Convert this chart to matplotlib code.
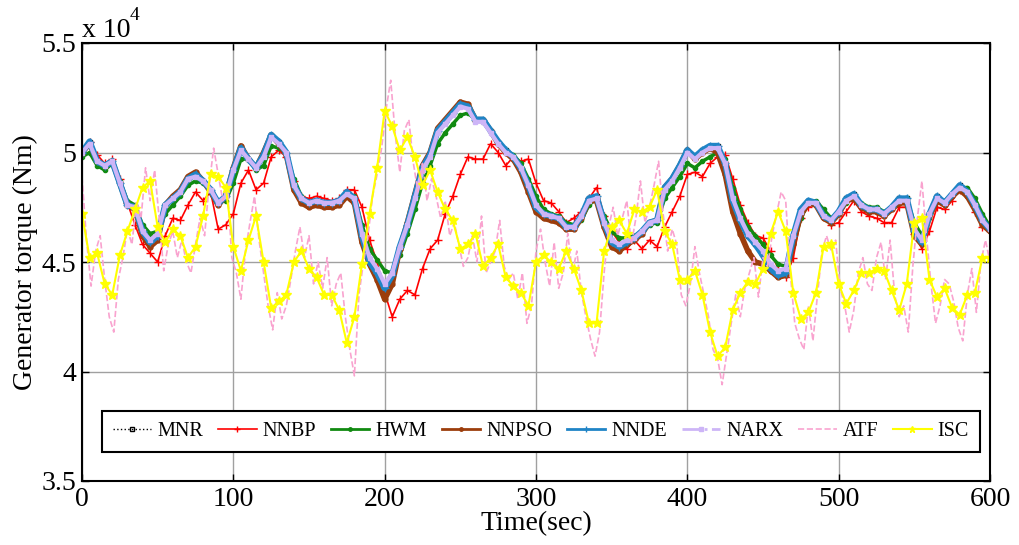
import numpy as np
import matplotlib
matplotlib.use("Agg")
import matplotlib.pyplot as plt
from matplotlib.lines import Line2D
from matplotlib.ticker import FuncFormatter

plt.rcParams["font.family"] = ["Liberation Serif", "DejaVu Serif"]

# Generator torque (x 10^4 Nm), sampled every 5 s
t = np.arange(0, 601, 5)

narx = [5.00, 5.04, 4.96, 4.94, 4.96, 4.86, 4.76, 4.75, 4.64, 4.60,
        4.63, 4.76, 4.79, 4.82, 4.88, 4.89, 4.87, 4.83, 4.77, 4.80,
        4.92, 5.01, 4.97, 4.93, 4.98, 5.07, 5.04, 5.00, 4.85, 4.79,
        4.77, 4.78, 4.77, 4.77, 4.78, 4.81, 4.79, 4.63, 4.52, 4.47,
        4.40, 4.45, 4.57, 4.67, 4.79, 4.92, 4.98, 5.09, 5.13, 5.17,
        5.21, 5.20, 5.14, 5.14, 5.09, 5.04, 5.00, 4.98, 4.93, 4.85,
        4.76, 4.72, 4.71, 4.70, 4.66, 4.66, 4.71, 4.78, 4.79, 4.68,
        4.60, 4.58, 4.60, 4.61, 4.64, 4.68, 4.69, 4.83, 4.87, 4.93,
        5.00, 4.97, 5.00, 5.02, 5.02, 4.95, 4.79, 4.70, 4.63, 4.59,
        4.55, 4.49, 4.46, 4.47, 4.62, 4.73, 4.77, 4.77, 4.71, 4.69,
        4.73, 4.78, 4.80, 4.76, 4.74, 4.74, 4.72, 4.75, 4.78, 4.78,
        4.65, 4.60, 4.72, 4.79, 4.77, 4.81, 4.84, 4.82, 4.76, 4.69,
        4.65]

nnde = [5.00, 5.05, 4.96, 4.94, 4.96, 4.86, 4.76, 4.75, 4.64, 4.59,
        4.62, 4.76, 4.79, 4.82, 4.88, 4.90, 4.87, 4.83, 4.77, 4.80,
        4.92, 5.02, 4.97, 4.93, 4.99, 5.08, 5.05, 5.00, 4.85, 4.79,
        4.77, 4.78, 4.77, 4.77, 4.78, 4.82, 4.79, 4.62, 4.50, 4.45,
        4.38, 4.44, 4.57, 4.67, 4.80, 4.93, 4.99, 5.10, 5.14, 5.18,
        5.22, 5.21, 5.15, 5.15, 5.10, 5.05, 5.01, 4.98, 4.93, 4.85,
        4.75, 4.72, 4.71, 4.70, 4.66, 4.66, 4.71, 4.79, 4.80, 4.68,
        4.59, 4.57, 4.59, 4.61, 4.64, 4.68, 4.69, 4.84, 4.88, 4.94,
        5.01, 4.98, 5.01, 5.03, 5.03, 4.95, 4.78, 4.69, 4.62, 4.58,
        4.53, 4.47, 4.44, 4.45, 4.62, 4.74, 4.78, 4.77, 4.71, 4.69,
        4.73, 4.79, 4.81, 4.76, 4.74, 4.74, 4.72, 4.75, 4.79, 4.79,
        4.64, 4.59, 4.72, 4.80, 4.77, 4.81, 4.85, 4.82, 4.76, 4.69,
        4.65]

mnr = [5.00, 5.05, 4.96, 4.94, 4.96, 4.86, 4.76, 4.75, 4.64, 4.59,
       4.62, 4.76, 4.79, 4.82, 4.88, 4.90, 4.87, 4.83, 4.77, 4.80,
       4.92, 5.02, 4.97, 4.93, 4.99, 5.08, 5.05, 5.00, 4.85, 4.79,
       4.77, 4.78, 4.77, 4.77, 4.78, 4.82, 4.79, 4.62, 4.50, 4.45,
       4.38, 4.44, 4.57, 4.67, 4.80, 4.93, 4.99, 5.10, 5.14, 5.18,
       5.22, 5.21, 5.15, 5.15, 5.10, 5.05, 5.01, 4.98, 4.93, 4.85,
       4.75, 4.72, 4.71, 4.70, 4.66, 4.66, 4.71, 4.79, 4.80, 4.68,
       4.59, 4.57, 4.59, 4.61, 4.64, 4.68, 4.69, 4.84, 4.88, 4.94,
       5.01, 4.98, 5.01, 5.03, 5.03, 4.95, 4.78, 4.69, 4.62, 4.58,
       4.53, 4.47, 4.44, 4.45, 4.62, 4.74, 4.78, 4.77, 4.71, 4.69,
       4.73, 4.79, 4.81, 4.76, 4.74, 4.74, 4.72, 4.75, 4.79, 4.79,
       4.64, 4.59, 4.72, 4.80, 4.77, 4.81, 4.85, 4.82, 4.76, 4.69,
       4.65]

nnpso = [5.00, 5.04, 4.96, 4.94, 4.96, 4.86, 4.76, 4.74, 4.62, 4.57,
         4.60, 4.76, 4.80, 4.83, 4.89, 4.91, 4.87, 4.82, 4.76, 4.80,
         4.93, 5.03, 4.97, 4.93, 5.00, 5.08, 5.04, 4.99, 4.83, 4.77,
         4.75, 4.76, 4.75, 4.75, 4.76, 4.80, 4.77, 4.59, 4.49, 4.42,
         4.33, 4.40, 4.56, 4.68, 4.81, 4.94, 5.00, 5.11, 5.15, 5.19,
         5.23, 5.22, 5.15, 5.15, 5.10, 5.04, 5.00, 4.97, 4.91, 4.82,
         4.73, 4.70, 4.69, 4.68, 4.65, 4.65, 4.70, 4.78, 4.78, 4.66,
         4.57, 4.55, 4.58, 4.60, 4.63, 4.68, 4.69, 4.84, 4.88, 4.94,
         5.01, 4.97, 5.00, 5.02, 5.00, 4.90, 4.73, 4.63, 4.55, 4.50,
         4.49, 4.46, 4.43, 4.44, 4.58, 4.72, 4.77, 4.76, 4.70, 4.68,
         4.72, 4.78, 4.79, 4.75, 4.73, 4.73, 4.71, 4.74, 4.77, 4.77,
         4.62, 4.58, 4.71, 4.78, 4.76, 4.80, 4.83, 4.80, 4.74, 4.67,
         4.64]

hwm = [4.98, 5.00, 4.94, 4.92, 4.95, 4.87, 4.78, 4.76, 4.67, 4.63,
       4.64, 4.72, 4.76, 4.80, 4.85, 4.87, 4.86, 4.83, 4.78, 4.78,
       4.86, 4.97, 4.97, 4.92, 4.94, 5.03, 5.02, 5.00, 4.88, 4.80,
       4.77, 4.78, 4.77, 4.77, 4.78, 4.80, 4.80, 4.67, 4.56, 4.51,
       4.46, 4.45, 4.53, 4.63, 4.74, 4.86, 4.94, 5.04, 5.09, 5.13,
       5.17, 5.18, 5.15, 5.14, 5.10, 5.05, 5.01, 4.99, 4.95, 4.88,
       4.80, 4.74, 4.72, 4.71, 4.68, 4.67, 4.69, 4.76, 4.79, 4.71,
       4.64, 4.61, 4.61, 4.62, 4.64, 4.67, 4.68, 4.79, 4.84, 4.89,
       4.95, 4.93, 4.96, 4.98, 5.00, 4.97, 4.84, 4.74, 4.66, 4.62,
       4.58, 4.53, 4.49, 4.48, 4.58, 4.70, 4.77, 4.78, 4.74, 4.70,
       4.72, 4.77, 4.80, 4.77, 4.75, 4.75, 4.73, 4.75, 4.78, 4.79,
       4.68, 4.62, 4.70, 4.78, 4.78, 4.81, 4.84, 4.84, 4.79, 4.72,
       4.66]

nnbp = [5.00, 5.05, 4.99, 4.95, 4.97, 4.88, 4.77, 4.67, 4.58, 4.54,
        4.50, 4.62, 4.70, 4.69, 4.76, 4.82, 4.78, 4.82, 4.65, 4.67,
        4.72, 4.86, 4.92, 4.83, 4.86, 4.98, 5.01, 4.98, 4.87, 4.80,
        4.79, 4.80, 4.79, 4.78, 4.79, 4.83, 4.83, 4.75, 4.60, 4.50,
        4.36, 4.25, 4.33, 4.37, 4.35, 4.47, 4.56, 4.60, 4.72, 4.80,
        4.90, 4.98, 4.97, 4.97, 5.04, 5.00, 4.94, 4.98, 4.96, 4.97,
        4.86, 4.78, 4.77, 4.73, 4.68, 4.70, 4.73, 4.79, 4.84, 4.71,
        4.64, 4.59, 4.56, 4.60, 4.56, 4.60, 4.57, 4.66, 4.73, 4.80,
        4.90, 4.91, 4.89, 4.95, 4.98, 4.99, 4.88, 4.76, 4.68, 4.62,
        4.61, 4.55, 4.47, 4.43, 4.52, 4.70, 4.75, 4.77, 4.71, 4.67,
        4.68, 4.73, 4.78, 4.73, 4.71, 4.70, 4.68, 4.68, 4.75, 4.75,
        4.63, 4.56, 4.64, 4.75, 4.74, 4.78, 4.83, 4.81, 4.73, 4.66,
        4.64]

isc = [4.72, 4.52, 4.54, 4.40, 4.35, 4.53, 4.64, 4.74, 4.84, 4.87,
       4.66, 4.59, 4.65, 4.62, 4.52, 4.57, 4.71, 4.90, 4.89, 4.84,
       4.57, 4.46, 4.60, 4.71, 4.50, 4.29, 4.32, 4.35, 4.50, 4.55,
       4.47, 4.43, 4.35, 4.35, 4.28, 4.13, 4.25, 4.49, 4.72, 4.93,
       5.19, 5.12, 5.01, 5.07, 4.98, 4.85, 4.92, 4.82, 4.74, 4.69,
       4.56, 4.58, 4.63, 4.48, 4.52, 4.58, 4.43, 4.39, 4.36, 4.30,
       4.50, 4.53, 4.50, 4.47, 4.55, 4.47, 4.37, 4.22, 4.22, 4.55,
       4.66, 4.69, 4.63, 4.74, 4.73, 4.75, 4.83, 4.64, 4.58, 4.42,
       4.42, 4.46, 4.35, 4.18, 4.07, 4.11, 4.28, 4.36, 4.41, 4.40,
       4.47, 4.63, 4.73, 4.64, 4.36, 4.24, 4.27, 4.36, 4.57, 4.58,
       4.40, 4.31, 4.37, 4.45, 4.45, 4.47, 4.46, 4.37, 4.28, 4.40,
       4.68, 4.70, 4.42, 4.34, 4.38, 4.29, 4.26, 4.35, 4.36, 4.52,
       4.52]

# ATF is sampled every 3 s
t_atf = np.arange(0, 601, 3)
atf = [4.89, 4.60, 4.39, 4.55, 4.62, 4.42, 4.25, 4.18, 4.42, 4.52,
       4.65, 4.58, 4.78, 4.70, 4.93, 4.78, 4.92, 4.70, 4.46, 4.58,
       4.64, 4.52, 4.60, 4.50, 4.45, 4.58, 4.70, 4.62, 4.85, 5.02,
       4.90, 4.78, 4.85, 4.52, 4.45, 4.33, 4.55, 4.68, 4.80, 4.60,
       4.45, 4.30, 4.19, 4.36, 4.24, 4.30, 4.42, 4.55, 4.66, 4.52,
       4.62, 4.40, 4.50, 4.38, 4.52, 4.30, 4.40, 4.45, 4.25, 4.10,
       3.98, 4.35, 4.50, 4.62, 4.80, 4.90, 5.02, 5.20, 5.33, 5.08,
       4.91, 5.10, 5.15, 4.95, 4.82, 4.95, 4.78, 4.88, 4.80, 4.70,
       4.78, 4.62, 4.68, 4.58, 4.48, 4.52, 4.62, 4.50, 4.71, 4.45,
       4.50, 4.55, 4.69, 4.48, 4.42, 4.45, 4.33, 4.45, 4.22, 4.30,
       4.55, 4.65, 4.50, 4.39, 4.59, 4.38, 4.45, 4.63, 4.45, 4.55,
       4.36, 4.25, 4.15, 4.07, 4.18, 4.45, 4.66, 4.75, 4.62, 4.70,
       4.78, 4.58, 4.70, 4.87, 4.68, 4.75, 4.85, 4.96, 4.72, 4.55,
       4.65, 4.58, 4.35, 4.30, 4.40, 4.57, 4.45, 4.35, 4.25, 4.10,
       4.06, 3.94, 4.08, 4.22, 4.35, 4.25, 4.38, 4.45, 4.52, 4.34,
       4.52, 4.48, 4.62, 4.72, 4.82, 4.78, 4.45, 4.22, 4.15, 4.10,
       4.30, 4.14, 4.35, 4.55, 4.62, 4.55, 4.60, 4.38, 4.30, 4.18,
       4.28, 4.45, 4.52, 4.40, 4.37, 4.52, 4.59, 4.42, 4.60, 4.35,
       4.25, 4.30, 4.18, 4.48, 4.70, 4.87, 4.62, 4.40, 4.22, 4.30,
       4.42, 4.40, 4.32, 4.20, 4.14, 4.35, 4.47, 4.27, 4.50, 4.60,
       4.50]

x_ticks = [0, 100, 200, 300, 400, 500, 600]
y_ticks = [3.5, 4.0, 4.5, 5.0, 5.5]

# line styles: (label, x, y, color, linestyle, linewidth, marker, markersize)
series = [
    ("MNR", t, mnr, "black", ":", 1.0, "s", 3),
    ("NNBP", t, nnbp, "#ff0000", "-", 1.2, "+", 6),
    ("HWM", t, hwm, "#118a11", "-", 2.5, ".", 6),
    ("NNPSO", t, nnpso, "#9c3d0c", "-", 4.0, ".", 7),
    ("NNDE", t, nnde, "#1f84c6", "-", 4.5, "+", 6),
    ("NARX", t, narx, "#cdb5f7", "-", 3.0, "s", 3.5),
    ("ATF", t_atf, atf, "#f9a3cf", "--", 1.2, None, 0),
    ("ISC", t, isc, "#ffff00", "-", 1.5, "*", 7),
]
legend_styles = {"NARX": "-.", "ATF": "--"}

fig = plt.figure(figsize=(10.19, 5.45), dpi=100)
ax = fig.add_axes([82 / 1019, 64 / 545, 908 / 1019, 438 / 545])

handles = []
for name, xs, ys, col, ls, lw, mk, ms in series:
    ax.plot(xs, ys, color=col, linestyle=ls, linewidth=lw, marker=mk,
            markersize=ms, markerfacecolor=col, markeredgecolor=col,
            markeredgewidth=1.0)
    handles.append(Line2D([], [], color=col,
                          linestyle=legend_styles.get(name, ls),
                          linewidth=min(lw, 2.0), marker=mk,
                          markersize=min(ms, 5),
                          markerfacecolor="none" if name == "MNR" else col,
                          markeredgecolor=col, label=name))

ax.set_xlim(0, 600)
ax.set_ylim(3.5, 5.5)
ax.set_xticks(x_ticks)
ax.set_yticks(y_ticks)
ax.yaxis.set_major_formatter(FuncFormatter(lambda v, p: f"{v:g}"))
ax.grid(True, color="#a0a0a0", linewidth=1.0)
ax.set_axisbelow(True)
ax.tick_params(direction="in", length=5, width=1, top=True, right=True,
               labelsize=20, pad=4)
for sp in ax.spines.values():
    sp.set_linewidth(1.5)

ax.set_xlabel("Time(sec)", fontsize=20, labelpad=0)
ax.set_ylabel("Generator torque (Nm)", fontsize=20, labelpad=3)

# axis multiplier above the y axis
ax.text(0.0, 1.0, "x 10", transform=ax.transAxes, fontsize=20,
        ha="left", va="bottom")
ax.text(0.053, 1.043, "4", transform=ax.transAxes, fontsize=14,
        ha="left", va="bottom")

leg = ax.legend(handles=handles, ncol=8, loc="lower left",
                bbox_to_anchor=(0.022, 0.066, 0.967, 0.089), mode="expand",
                fontsize=14.5, frameon=True, fancybox=False, numpoints=1,
                handlelength=1.9, handletextpad=0.3, columnspacing=0.6,
                borderaxespad=0, borderpad=0.55)
leg.get_frame().set_edgecolor("black")
leg.get_frame().set_linewidth(1.5)
leg.get_frame().set_alpha(1)

fig.savefig("out.png", dpi=100)
